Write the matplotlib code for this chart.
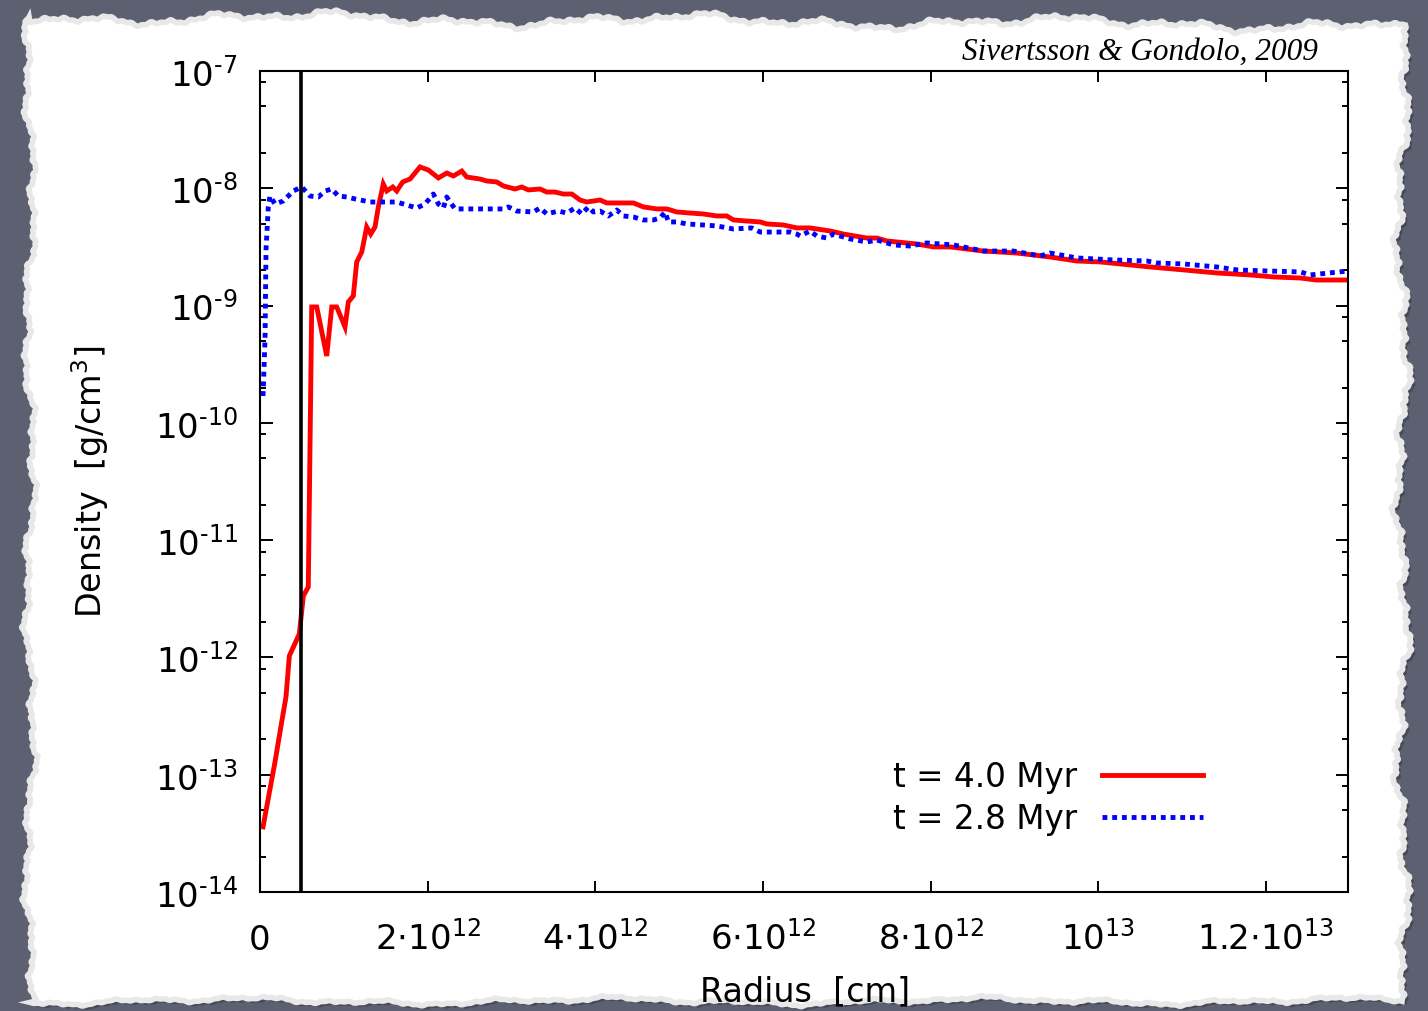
import matplotlib
matplotlib.use("Agg")
import matplotlib.pyplot as plt
import numpy as np
from matplotlib.patches import Polygon
from matplotlib.lines import Line2D
from matplotlib.ticker import FixedLocator, LogLocator, NullFormatter, FuncFormatter

plt.rcParams['font.family'] = ['DejaVu Sans']
plt.rcParams['mathtext.fontset'] = 'dejavusans'

# radius in units of 1e12 cm, density as log10 (g/cm^3)
# t = 4.0 Myr (red, solid)
r_40 = [0.036, 0.179, 0.259, 0.310, 0.350, 0.469, 0.517, 0.576, 0.617, 0.677,
        0.796, 0.856, 0.915, 0.975, 1.014, 1.054, 1.113, 1.154, 1.214, 1.273,
        1.321, 1.372, 1.412, 1.471, 1.512, 1.584, 1.631, 1.703, 1.790, 1.909,
        2.008, 2.128, 2.228, 2.307, 2.407, 2.467, 2.625, 2.705, 2.825, 2.903,
        3.043, 3.123, 3.202, 3.341, 3.421, 3.520, 3.619, 3.720, 3.819, 3.899,
        4.057, 4.137, 4.296, 4.455, 4.574, 4.734, 4.853, 4.973, 5.131, 5.290,
        5.450, 5.569, 5.648, 5.808, 5.967, 6.046, 6.245, 6.404, 6.563, 6.802,
        6.961, 7.240, 7.359, 7.478, 7.836, 8.035, 8.234, 8.631, 9.030, 9.427,
        9.746, 10.024, 10.621, 11.018, 11.417, 11.814, 12.092, 12.411, 12.602, 12.983]
logrho_40 = [-13.445, -12.891, -12.550, -12.337, -11.987, -11.800, -11.476, -11.399, -9.012, -9.012,
             -9.430, -9.012, -9.012, -9.114, -9.182, -8.969, -8.918, -8.628, -8.543, -8.330,
             -8.390, -8.330, -8.159, -7.963, -8.023, -7.989, -8.023, -7.946, -7.921, -7.818,
             -7.844, -7.912, -7.870, -7.895, -7.853, -7.904, -7.921, -7.938, -7.946, -7.980,
             -8.006, -7.989, -8.014, -8.006, -8.032, -8.032, -8.049, -8.049, -8.100, -8.117,
             -8.100, -8.125, -8.125, -8.125, -8.159, -8.176, -8.176, -8.202, -8.211, -8.219,
             -8.236, -8.236, -8.270, -8.279, -8.287, -8.304, -8.313, -8.338, -8.338, -8.364,
             -8.390, -8.424, -8.424, -8.449, -8.475, -8.500, -8.500, -8.535, -8.552, -8.586,
             -8.620, -8.628, -8.671, -8.696, -8.722, -8.739, -8.756, -8.765, -8.782, -8.782]

# t = 2.8 Myr (blue, dotted)
r_28 = [0.036, 0.060, 0.072, 0.099, 0.119, 0.179, 0.278, 0.397, 0.498, 0.597,
        0.696, 0.776, 0.856, 0.934, 1.035, 1.134, 1.313, 1.432, 1.631, 1.870,
        1.969, 2.068, 2.128, 2.187, 2.228, 2.267, 2.327, 2.903, 2.963, 3.063,
        3.261, 3.341, 3.421, 3.560, 3.660, 3.759, 3.839, 3.918, 3.977, 4.057,
        4.156, 4.257, 4.335, 4.455, 4.574, 4.693, 4.773, 4.833, 4.872, 4.973,
        5.092, 5.290, 5.450, 5.648, 5.867, 5.967, 6.205, 6.325, 6.404, 6.444,
        6.563, 6.643, 6.762, 6.841, 7.041, 7.240, 7.359, 7.557, 7.757, 7.956,
        8.273, 8.631, 8.989, 9.308, 9.427, 9.746, 10.183, 10.581, 10.701, 11.018,
        11.417, 11.655, 12.013, 12.411, 12.530, 12.983]
logrho_28 = [-9.771, -9.285, -8.517, -8.159, -8.066, -8.134, -8.108, -8.023, -7.989, -8.066,
             -8.074, -8.023, -8.006, -8.066, -8.074, -8.091, -8.117, -8.117, -8.117, -8.168,
             -8.134, -8.049, -8.134, -8.168, -8.074, -8.117, -8.176, -8.176, -8.159, -8.194,
             -8.202, -8.168, -8.219, -8.194, -8.211, -8.168, -8.219, -8.159, -8.202, -8.194,
             -8.236, -8.185, -8.236, -8.245, -8.270, -8.270, -8.253, -8.202, -8.287, -8.287,
             -8.304, -8.313, -8.321, -8.347, -8.338, -8.373, -8.373, -8.373, -8.390, -8.407,
             -8.364, -8.407, -8.424, -8.390, -8.432, -8.458, -8.441, -8.483, -8.492, -8.466,
             -8.483, -8.535, -8.535, -8.577, -8.552, -8.594, -8.611, -8.620, -8.637, -8.645,
             -8.671, -8.696, -8.705, -8.713, -8.739, -8.705]

# inner boundary (vertical line), 1e12 cm
r_inner = 0.49

xticks = [0, 2, 4, 6, 8, 10, 12]
xticklabels = ['0', r'$2{\cdot}10^{12}$', r'$4{\cdot}10^{12}$', r'$6{\cdot}10^{12}$',
               r'$8{\cdot}10^{12}$', r'$10^{13}$', r'$1.2{\cdot}10^{13}$']
ydecades = [-14, -13, -12, -11, -10, -9, -8, -7]
legend_labels = ['t = 4.0 Myr', 't = 2.8 Myr']

W, H = 1428, 1012
fig = plt.figure(figsize=(W / 100, H / 100), dpi=100)
fig.patch.set_facecolor('#5d6071')

# torn paper sheet, edges roughened with a few sines (decoration only)
def wobble(t, a):
    return a * (np.sin(23 * t) * 0.45 + np.sin(71 * t + 1.3) * 0.3
                + np.sin(157 * t + 2.1) * 0.2 + np.sin(409 * t + 0.4) * 0.12
                + np.sin(887 * t + 1.7) * 0.08)

t = np.linspace(0, 1, 900)
top = np.column_stack([30 + t * 1372, 18 + wobble(t, 9) + 8 * t])
right = np.column_stack([1402 + wobble(t + 3, 10), 26 + t * 974])
bot = np.column_stack([1402 - t * 1372, 1002 + wobble(t + 7, 5)])
left = np.column_stack([30 + wobble(t + 11, 8), 1002 - t * 984])
pts = np.vstack([top, right, bot, left])
pts_fig = np.column_stack([pts[:, 0] / W, 1 - pts[:, 1] / H])
shadow = Polygon(pts_fig + np.array([0.003, -0.004]), closed=True, transform=fig.transFigure,
                 facecolor='#3e404c', edgecolor='none', alpha=0.7, zorder=-2)
paper = Polygon(pts_fig, closed=True, transform=fig.transFigure,
                facecolor='white', edgecolor='#e8e8e8', lw=4, zorder=-1)
fig.patches.extend([shadow, paper])

ax = fig.add_axes([260 / W, 1 - 893 / H, 1088 / W, 821 / H])
ax.set_facecolor('white')
ax.set_zorder(3)

ax.plot(r_40, 10 ** np.array(logrho_40), color='#ff0000', lw=3.5, solid_joinstyle='miter')
ax.plot(r_28, 10 ** np.array(logrho_28), color='#0000ff', lw=3.5,
        linestyle=(0, (1, 1.0)), dash_capstyle='butt')
ax.axvline(r_inner, color='black', lw=2.6)

ax.set_yscale('log')
ax.set_xlim(0, 12.98)
ax.set_ylim(1e-14, 1e-7)

ax.xaxis.set_major_locator(FixedLocator(xticks))
ax.set_xticklabels(xticklabels)
ax.yaxis.set_major_locator(FixedLocator([10.0 ** d for d in ydecades]))
ax.yaxis.set_minor_locator(LogLocator(base=10, subs=[2, 5, 8], numticks=20))
ax.yaxis.set_major_formatter(FuncFormatter(
    lambda v, pos: r'$10^{\text{%d}}$' % int(round(np.log10(v)))))
ax.yaxis.set_minor_formatter(NullFormatter())

ax.tick_params(axis='both', which='both', direction='in', top=True, right=True, width=1.4)
ax.tick_params(axis='x', which='major', length=8, labelsize=24.5, pad=41)
ax.tick_params(axis='y', which='major', length=9, labelsize=24.5, pad=16)
ax.tick_params(axis='y', which='minor', length=4.5)
for lab in ax.get_xticklabels():
    lab.set_verticalalignment('baseline')
for sp in ax.spines.values():
    sp.set_linewidth(1.5)

handles = [Line2D([], [], color='#ff0000', lw=3.5),
           Line2D([], [], color='#0000ff', lw=3.5, linestyle=(0, (1, 1.0)), dash_capstyle='butt')]
ax.legend(handles, legend_labels, loc='lower right',
          bbox_to_anchor=((1203 - 260) / 1088, (893 - 836) / 821),
          markerfirst=False, frameon=False, fontsize=23.5, handlelength=3.1,
          handletextpad=0.75, labelspacing=0.27, borderpad=0, borderaxespad=0)

fig.text(805 / W, 1 - 992 / H, 'Radius  [cm]', ha='center', va='center', fontsize=24, zorder=4)
fig.text(90 / W, 1 - 482 / H, r'Density  [g/cm$^3$]', ha='center', va='center',
         rotation=90, fontsize=24, zorder=4)
fig.text(1318 / W, 1 - 52 / H, 'Sivertsson & Gondolo, 2009', ha='right', va='center',
         family='Liberation Serif', style='italic', fontsize=22.5, zorder=4)

fig.savefig('out.png', dpi=100, facecolor=fig.get_facecolor())
